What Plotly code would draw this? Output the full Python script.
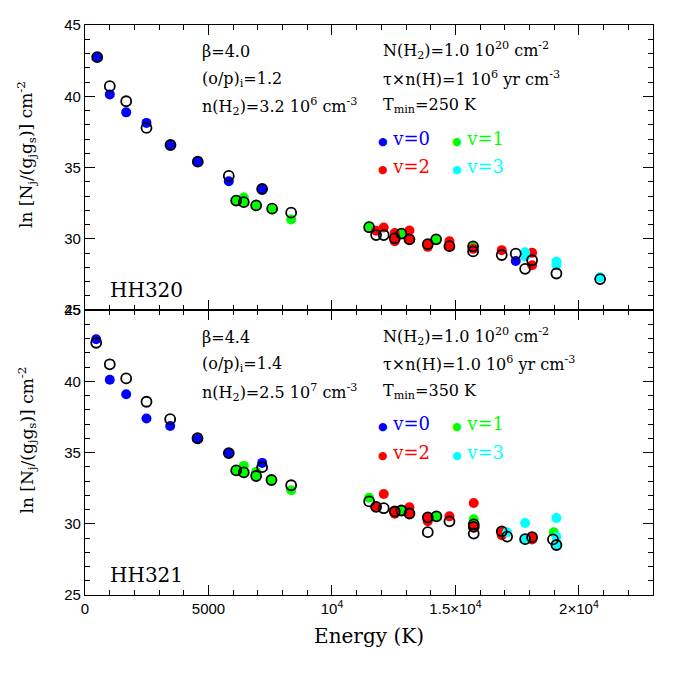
import plotly.graph_objects as go
from plotly.subplots import make_subplots

# HH320 (upper panel) - observed lines, by vibrational level
e0_320 = [494, 1004, 1668, 2490, 3462, 4567, 5822, 7173, 17442]
n0_320 = [42.74, 40.13, 38.87, 38.13, 36.58, 35.41, 34.04, 33.49, 28.44]
e1_320 = [6121, 6430, 6430, 6930, 7577, 8348, 11506, 12814, 14218, 15715]
n1_320 = [32.68, 32.89, 32.57, 32.34, 32.05, 31.35, 30.88, 30.36, 29.96, 29.46]
e2_320 = [11787, 12097, 12543, 12543, 12543, 13138, 13138, 13880, 13880, 14757, 14757, 15715, 16875, 18105, 18105]
n2_320 = [30.56, 30.79, 30.40, 30.03, 29.82, 30.58, 29.96, 29.62, 29.43, 29.82, 29.48, 29.29, 29.20, 29.01, 28.14]
e3_320 = [17822, 17822, 19089, 19089, 20858]
n3_320 = [29.05, 28.75, 28.40, 28.15, 27.30]
# HH320 model
em_320 = [494, 1004, 1668, 2490, 3462, 4567, 5822, 6121, 6430, 6930, 7173, 7577, 8348,
          11506, 11787, 12097, 12543, 12814, 13138, 13880, 14218, 14757, 15715, 15715,
          16875, 17442, 17822, 18105, 19089, 20858]
nm_320 = [42.74, 40.71, 39.65, 37.78, 36.58, 35.41, 34.41, 32.68, 32.57, 32.34, 33.49, 32.11, 31.83,
          30.81, 30.26, 30.26, 30.03, 30.36, 29.96, 29.62, 29.96, 29.48, 29.46, 29.11,
          28.86, 28.95, 27.89, 28.49, 27.56, 27.17]

# HH321 (lower panel) - observed lines
e0_321 = [453, 1004, 1668, 2490, 3449, 4555, 5822, 7173]
n0_321 = [42.95, 40.11, 39.09, 37.39, 36.86, 35.95, 34.96, 34.27]
e1_321 = [6121, 6430, 6430, 6930, 6930, 7551, 8348, 11506, 12814, 14231, 15741, 18980]
n1_321 = [33.74, 34.06, 33.60, 33.65, 33.35, 33.07, 32.35, 31.82, 30.93, 30.52, 30.31, 29.40]
e2_321 = [11787, 12097, 12543, 12543, 13138, 13138, 13880, 13880, 14757, 15741, 15741, 16875, 16875, 18105, 18105]
n2_321 = [31.18, 32.09, 30.86, 30.70, 31.16, 30.72, 30.45, 30.17, 30.52, 31.46, 29.78, 29.47, 29.20, 29.06, 28.90]
e3_321 = [17093, 17822, 17822, 19089, 19089, 19089]
n3_321 = [29.40, 30.05, 28.92, 30.40, 29.08, 28.51]
# HH321 model
em_321 = [453, 1004, 1668, 2490, 3449, 4555, 5822, 7173, 6121, 6430, 6930, 7551, 8348,
          11506, 11787, 12097, 12543, 12814, 13138, 13880, 13880, 14231, 14757, 15741, 15741, 15741,
          16875, 17093, 17822, 18105, 18950, 19089]
nm_321 = [42.70, 41.19, 40.20, 38.56, 37.34, 36.00, 34.96, 33.97, 33.74, 33.60, 33.35, 33.07, 32.70,
          31.57, 31.18, 31.09, 30.86, 30.93, 30.72, 30.45, 29.41, 30.52, 30.17, 29.96, 29.78, 29.31,
          29.47, 29.10, 28.92, 29.06, 28.90, 28.51]

x_ticks = [0, 5000, 10000, 15000, 20000]
x_labels = ["0", "5000", "10<sup>4</sup>", "1.5×10<sup>4</sup>", "2×10<sup>4</sup>"]
y_ticks = [25, 30, 35, 40, 45]

colors = ["#0000ff", "#00ff00", "#ff0000", "#00ffff"]
serif = "DejaVu Serif"

fig = make_subplots(rows=2, cols=1, shared_xaxes=True, vertical_spacing=0)

panels = [
    ([e0_320, e1_320, e2_320, e3_320], [n0_320, n1_320, n2_320, n3_320], em_320, nm_320),
    ([e0_321, e1_321, e2_321, e3_321], [n0_321, n1_321, n2_321, n3_321], em_321, nm_321),
]
for row, (es, ns, em, nm) in enumerate(panels, start=1):
    for v in range(4):
        fig.add_trace(go.Scatter(x=es[v], y=ns[v], mode="markers",
                                 marker=dict(color=colors[v], size=10, line=dict(width=0)),
                                 showlegend=False), row=row, col=1)
    fig.add_trace(go.Scatter(x=em, y=nm, mode="markers",
                             marker=dict(symbol="circle-open", color="black", size=10,
                                         line=dict(width=1.8, color="black")),
                             showlegend=False), row=row, col=1)

ax = dict(showline=True, linecolor="black", linewidth=1.2, mirror="allticks",
          ticks="inside", ticklen=10, tickwidth=1.2, tickcolor="black",
          showgrid=False, zeroline=False,
          tickfont=dict(family="Liberation Sans", size=15, color="black"))
for row in (1, 2):
    fig.update_xaxes(ax, range=[0, 23000], tickvals=x_ticks, ticktext=x_labels,
                     minor=dict(ticks="inside", ticklen=5, dtick=1000, tick0=0,
                                tickcolor="black", tickwidth=1.2),
                     row=row, col=1)
    fig.update_yaxes(ax, range=[25, 45], tickvals=y_ticks,
                     minor=dict(ticks="inside", ticklen=5, dtick=1, tick0=25,
                                tickcolor="black", tickwidth=1.2),
                     row=row, col=1)
fig.update_xaxes(showticklabels=False, row=1, col=1)
fig.update_xaxes(title=dict(text="Energy (K)", font=dict(family=serif, size=20, color="black"),
                            standoff=12), row=2, col=1)

# plot area in reference pixels; the page adds an 8 px body margin
W, H = 568, 579
L, T = 85, 16
PAGE = 8


def px(x):
    return (x - L) / W


def py(y):
    return (T + H - y) / H


def note(x, y, text, size=16, color="black", anchor="left"):
    fig.add_annotation(x=px(x), y=py(y), xref="paper", yref="paper", text=text,
                       showarrow=False, xanchor=anchor, yanchor="middle",
                       font=dict(family=serif, size=size, color=color))


ytitle = "ln [N<sub>j</sub>/(g<sub>j</sub>g<sub>s</sub>)] cm<sup>-2</sup>"
for yc in (148, 438):
    fig.add_annotation(x=px(27), y=py(yc), xref="paper", yref="paper", text=ytitle,
                       textangle=-90, showarrow=False, xanchor="center", yanchor="middle",
                       font=dict(family=serif, size=17, color="black"))

texts = [
    ("β=4.0", "(o/p)<sub>i</sub>=1.2", "n(H<sub>2</sub>)=3.2 10<sup>6</sup> cm<sup>-3</sup>",
     "N(H<sub>2</sub>)=1.0 10<sup>20</sup> cm<sup>-2</sup>",
     "τ×n(H)=1 10<sup>6</sup> yr cm<sup>-3</sup>", "T<sub>min</sub>=250 K", "HH320"),
    ("β=4.4", "(o/p)<sub>i</sub>=1.4", "n(H<sub>2</sub>)=2.5 10<sup>7</sup> cm<sup>-3</sup>",
     "N(H<sub>2</sub>)=1.0 10<sup>20</sup> cm<sup>-2</sup>",
     "τ×n(H)=1.0 10<sup>6</sup> yr cm<sup>-3</sup>", "T<sub>min</sub>=350 K", "HH321"),
]
for i, t in enumerate(texts):
    off = i * 290
    note(200, 43 + off, t[0])
    note(200, 71 + off, t[1])
    note(200, 99 + off, t[2])
    note(381, 42 + off, t[3])
    note(381, 70 + off, t[4])
    note(381, 98 + off, t[5])
    note(108, 285 + off, t[6], size=20)
    for k, (dx, dy) in enumerate([(0, 0), (74, 0), (0, 29), (74, 29)]):
        note(376 + dx, 131 + dy + off, "<span style='font-size:11px'>●</span> v=%d" % k,
             size=18, color=colors[k])

fig.update_layout(width=678, height=678,
                  margin=dict(l=L - PAGE, r=678 - L - W + PAGE, t=T - PAGE, b=678 - T - H + PAGE),
                  paper_bgcolor="white", plot_bgcolor="white")

fig.write_html("out.html")
